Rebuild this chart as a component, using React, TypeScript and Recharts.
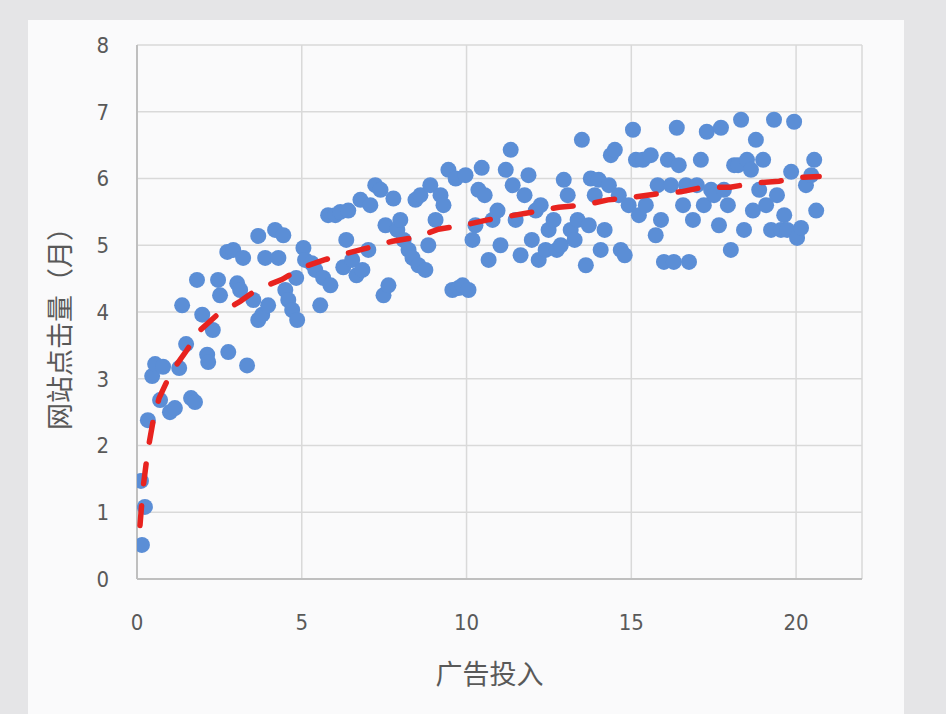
import React from 'react'
import { ScatterChart, Scatter, XAxis, YAxis, CartesianGrid } from 'recharts'

// 广告投入 (x) vs 网站点击量 (y)
const adSpend = [
  0.12, 0.24, 0.15, 0.33, 0.46, 0.55, 0.79, 0.7, 1.0, 1.15, 1.28, 1.37, 1.49, 1.64, 1.76, 1.82, 1.98, 2.13, 2.16, 2.3,
  2.46, 2.52, 2.74, 2.92, 3.04, 2.77, 3.13, 3.22, 3.34, 3.53, 3.68, 3.68, 3.8, 3.89, 3.98, 4.19, 4.29, 4.44, 4.5, 4.59,
  4.71, 4.86, 4.83, 5.05, 5.1, 5.3, 5.41, 5.56, 5.65, 5.8, 5.87, 6.02, 6.17, 6.26, 6.35, 6.41, 6.53, 6.66, 6.78, 6.84,
  7.02, 7.08, 7.23, 7.39, 7.48, 7.54, 7.63, 7.78, 7.9, 7.99, 8.09, 8.24, 8.36, 8.45, 8.54, 8.6, 8.75, 8.84, 8.9, 9.06,
  9.21, 9.3, 9.45, 9.57, 9.67, 9.76, 9.88, 9.97, 10.06, 10.18, 10.27, 10.36, 10.46, 10.55, 10.67, 10.79, 10.94, 11.03, 11.19, 11.34,
  11.4, 11.49, 11.64, 11.76, 11.88, 11.98, 12.1, 12.19, 12.25, 12.4, 12.49, 12.64, 12.74, 12.86, 12.95, 13.07, 13.16, 13.28, 13.37, 13.5,
  13.62, 13.71, 13.77, 13.89, 14.01, 14.07, 14.19, 14.32, 14.38, 14.5, 14.62, 14.68, 14.8, 14.92, 15.05, 15.14, 15.23, 15.35, 15.44, 15.59,
  15.74, 15.8, 15.9, 15.99, 16.11, 16.2, 16.29, 16.38, 16.44, 16.57, 16.66, 16.75, 16.87, 16.99, 17.11, 17.2, 17.29, 17.42, 17.51, 17.66,
  17.72, 17.81, 17.93, 18.02, 18.12, 18.24, 18.33, 18.42, 18.51, 18.63, 18.69, 18.78, 18.88, 19.0, 19.09, 19.24, 19.33, 19.42, 19.54, 19.64,
  19.73, 19.85, 19.94, 20.03, 20.15, 20.3, 20.46, 20.55, 20.61,
]
const clicks = [
  1.47, 1.08, 0.51, 2.38, 3.04, 3.22, 3.18, 2.68, 2.5, 2.56, 3.16, 4.1, 3.52, 2.71, 2.65, 4.48, 3.96, 3.36, 3.25, 3.73,
  4.48, 4.25, 4.9, 4.93, 4.43, 3.4, 4.33, 4.81, 3.2, 4.18, 5.14, 3.88, 3.96, 4.81, 4.1, 5.23, 4.81, 5.15, 4.33, 4.18,
  4.03, 3.88, 4.51, 4.96, 4.78, 4.73, 4.63, 4.1, 4.51, 5.45, 4.4, 5.45, 5.5, 4.67, 5.08, 5.52, 4.78, 4.55, 5.68, 4.63,
  4.93, 5.6, 5.9, 5.83, 4.25, 5.3, 4.4, 5.7, 5.23, 5.38, 5.08, 4.93, 4.81, 5.68, 4.7, 5.75, 4.63, 5.0, 5.9, 5.38,
  5.75, 5.6, 6.13, 4.33, 6.0, 4.36, 4.4, 6.05, 4.33, 5.08, 5.3, 5.83, 6.16, 5.75, 4.78, 5.38, 5.52, 5.0, 6.13, 6.43,
  5.9, 5.38, 4.85, 5.75, 6.05, 5.08, 5.52, 4.78, 5.6, 4.93, 5.23, 5.38, 4.93, 5.0, 5.98, 5.75, 5.23, 5.08, 5.38, 6.58,
  4.7, 5.3, 6.0, 5.75, 5.98, 4.93, 5.23, 5.9, 6.35, 6.43, 5.75, 4.93, 4.85, 5.6, 6.73, 6.28, 5.45, 6.28, 5.6, 6.35,
  5.15, 5.9, 5.38, 4.75, 6.28, 5.9, 4.75, 6.76, 6.2, 5.6, 5.9, 4.75, 5.38, 5.9, 6.28, 5.6, 6.7, 5.83, 5.75, 5.3,
  6.76, 5.83, 5.6, 4.93, 6.2, 6.2, 6.88, 5.23, 6.28, 6.13, 5.52, 6.58, 5.83, 6.28, 5.6, 5.23, 6.88, 5.75, 5.23, 5.45,
  5.23, 6.1, 6.85, 5.11, 5.26, 5.9, 6.05, 6.28, 5.52,
]

// dashed trend line, read along its dashes
const trendX = [
  0.09, 0.18, 0.33, 0.5, 0.67, 1.03, 1.5, 1.9, 2.46, 3.13, 3.65, 4.41, 5.02, 5.68, 6.38, 7.08, 7.75, 8.48,
  9.15, 9.91, 10.64, 11.34, 12.04, 12.8, 13.56, 14.29, 15.05, 15.8, 16.5, 17.2, 18.0, 18.72, 19.48, 20.2, 20.7,
]
const trendY = [
  0.8, 1.35, 1.93, 2.4, 2.71, 3.09, 3.42, 3.72, 3.97, 4.16, 4.34, 4.49, 4.67, 4.78, 4.88, 4.97, 5.06, 5.12,
  5.24, 5.3, 5.38, 5.44, 5.5, 5.57, 5.6, 5.68, 5.72, 5.77, 5.8, 5.87, 5.87, 5.93, 5.96, 6.02, 6.03,
]

const xTicks = [0, 5, 10, 15, 20]
const yTicks = [0, 1, 2, 3, 4, 5, 6, 7, 8]

const points = adSpend.map((x, i) => ({ x, y: clicks[i] }))
const trend = trendX.map((x, i) => ({ x, y: trendY[i] }))

const tickFont = { fontSize: 22, fill: '#595959', fontFamily: '"Liberation Sans Narrow", "DejaVu Sans Condensed", sans-serif' }
const titleFont = { fontSize: 27, fill: '#595959', fontFamily: '"Noto Sans CJK SC", sans-serif' }

const Dot = (props: any) => <circle cx={props.cx} cy={props.cy} r={8} fill="#5b8ed6" />

export default function App() {
  return (
    <div style={{ position: 'absolute', left: 0, top: 0, width: 946, height: 714, background: '#e5e5e7', overflow: 'hidden' }}>
      <div style={{ position: 'absolute', left: 28, top: 20, width: 876, height: 694, background: '#fafafb' }} />
      <div style={{ position: 'absolute', left: 0, top: 0 }}>
        <ScatterChart width={946} height={714} margin={{ top: 45, right: 84, left: 0, bottom: 0 }}>
          <CartesianGrid stroke="#d9d9d9" strokeWidth={1.5} />
          <XAxis
            type="number"
            dataKey="x"
            domain={[0, 22]}
            ticks={xTicks}
            allowDataOverflow
            height={135}
            tickLine={false}
            tickSize={0}
            tickMargin={35}
            axisLine={{ stroke: '#bfbfbf', strokeWidth: 2 }}
            tick={tickFont}
            label={{ value: '广告投入', position: 'insideBottom', offset: 30, dx: -10, style: titleFont }}
          />
          <YAxis
            type="number"
            dataKey="y"
            domain={[0, 8]}
            ticks={yTicks}
            allowDataOverflow
            width={137}
            tickLine={false}
            tickSize={0}
            tickMargin={28}
            axisLine={{ stroke: '#bfbfbf', strokeWidth: 2 }}
            tick={tickFont}
            label={{ value: '网站点击量（月）', angle: -90, position: 'insideLeft', offset: 60, dy: 10, style: { ...titleFont, textAnchor: 'middle' } }}
          />
          <Scatter data={points} shape={<Dot />} isAnimationActive={false} />
          <Scatter
            data={trend}
            shape={() => <g />}
            line={{ stroke: '#e8231f', strokeWidth: 5.5, strokeDasharray: '20 22', strokeLinecap: 'round' }}
            lineType="joint"
            isAnimationActive={false}
          />
        </ScatterChart>
      </div>
    </div>
  )
}
